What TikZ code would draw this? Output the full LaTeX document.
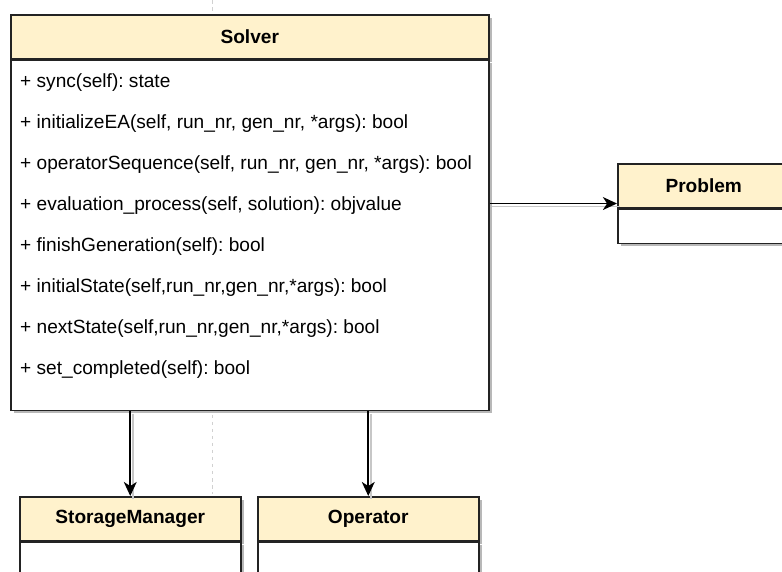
\documentclass[tikz,border=0pt]{standalone}
\usepackage{fontspec}
\setmainfont{Liberation Sans}
\usetikzlibrary{arrows.meta,positioning,calc,shadows}

\definecolor{headyellow}{HTML}{FFF2CC}
\definecolor{edgedark}{RGB}{35,35,35}
\newcommand{\px}{0.03cm}
\frenchspacing

\tikzset{
  classbox/.style={
    draw=edgedark,
    line width=1.3pt,
    anchor=north west,
    inner sep=0pt,
    drop shadow={shadow xshift=2.4pt,shadow yshift=-2.4pt,fill=black!28,opacity=1}
  },
  classhead/.style={classbox,fill=headyellow,minimum height=44*\px,
    font=\bfseries\fontsize{16.3}{19}\selectfont},
  classbody/.style={classbox,fill=white},
  method/.style={anchor=west,inner sep=0pt,font=\fontsize{16.3}{19}\selectfont},
  link/.style={-{Stealth[length=12pt,width=11pt,inset=3.5pt]},line width=1.5pt,draw=black,
    preaction={draw=black!22,line width=1.3pt,-,transform canvas={shift={(2.4pt,-2.4pt)}}}},
  pageguide/.style={draw=black!18,dashed,line width=0.6pt},
}

\begin{document}
\begin{tikzpicture}[x=0.03cm,y=-0.03cm]
  \useasboundingbox (0,0) rectangle (782,572);
  \clip (0,0) rectangle (782,572);

  % page break guide
  \draw[pageguide] (212,0) -- (212,494);

  % Solver class
  \node[classhead,minimum width=478*\px] (shead) at (10,14) {Solver};
  \node[classbody,minimum width=478*\px,minimum height=350*\px] (sbody) at (shead.south west) {};
  \foreach \meth [count=\i] in {
      {+ sync(self): state},
      {+ initializeEA(self, run\_nr, gen\_nr, *args): bool},
      {+ operatorSequence(self, run\_nr, gen\_nr, *args): bool},
      {+ evaluation\_process(self, solution): objvalue},
      {+ finishGeneration(self): bool},
      {+ initialState(self,run\_nr,gen\_nr,*args): bool},
      {+ nextState(self,run\_nr,gen\_nr,*args): bool},
      {+ set\_completed(self): bool}}
    \node[method] (m\i) at ($(sbody.north west)+(10,{23+41*(\i-1)})$) {\meth};

  % Problem class
  \node[classhead,minimum width=172*\px] (phead) at (617,163) {Problem};
  \node[classbody,minimum width=172*\px,minimum height=34*\px] (pbody) at (phead.south west) {};

  % StorageManager and Operator classes
  \node[classhead,minimum width=221*\px] (smhead) at (19,496) {StorageManager};
  \node[classbody,minimum width=221*\px,minimum height=40*\px] (smbody) at (smhead.south west) {};
  \node[classhead,minimum width=221*\px] (ophead) at (257,496) {Operator};
  \node[classbody,minimum width=221*\px,minimum height=40*\px] (opbody) at (ophead.south west) {};

  % associations
  \coordinate (pmid) at ($(phead.north west)!0.5!(pbody.south west)$);
  \draw[link] (sbody.east |- pmid) -- (pmid);
  \draw[link] (sbody.south -| smhead.north) -- (smhead.north);
  \draw[link] (sbody.south -| ophead.north) -- (ophead.north);
\end{tikzpicture}
\end{document}
